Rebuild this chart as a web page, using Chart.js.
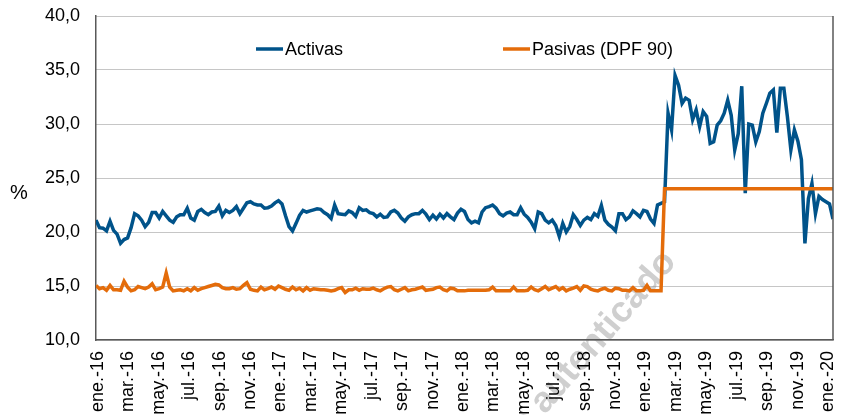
<!DOCTYPE html>
<html>
<head>
<meta charset="utf-8">
<script src="https://cdn.jsdelivr.net/npm/chart.js@4.4.0/dist/chart.umd.min.js"></script>
<style>
    html, body { margin: 0; padding: 0; background: #ffffff; }
</style>
</head>
<body>
<canvas id="tasas-chart" width="843" height="415"></canvas>
<script>
// Etiquetas del eje X (cada dos meses)
const monthLabels = [
    'ene.-16', 'mar.-16', 'may.-16', 'jul.-16', 'sep.-16', 'nov.-16',
    'ene.-17', 'mar.-17', 'may.-17', 'jul.-17', 'sep.-17', 'nov.-17',
    'ene.-18', 'mar.-18', 'may.-18', 'jul.-18', 'sep.-18', 'nov.-18',
    'ene.-19', 'mar.-19', 'may.-19', 'jul.-19', 'sep.-19', 'nov.-19',
    'ene.-20'
];

// Tasas semanales (%)
const activas = [
    21.1, 20.4, 20.35, 20.1, 21.0, 20.15, 19.8, 18.95, 19.3, 19.45,
    20.4, 21.7, 21.5, 21.1, 20.5, 20.9, 21.8, 21.8, 21.3, 21.9,
    21.5, 21.1, 20.9, 21.4, 21.6, 21.6, 22.2, 21.3, 21.1, 21.9,
    22.1, 21.8, 21.6, 21.85, 21.9, 22.4, 21.5, 22.0, 21.8, 22.0,
    22.35, 21.7, 22.2, 22.7, 22.8, 22.6, 22.5, 22.5, 22.2, 22.25,
    22.4, 22.7, 22.9, 22.6, 21.5, 20.5, 20.1, 20.8, 21.55, 22.0,
    21.85, 21.95, 22.05, 22.15, 22.1, 21.8, 21.6, 21.25, 22.5, 21.7,
    21.65, 21.6, 21.95, 21.8, 21.45, 22.25, 22.0, 22.05, 21.8, 21.7,
    21.4, 21.65, 21.35, 21.4, 21.85, 22.0, 21.75, 21.3, 21.0, 21.4,
    21.6, 21.7, 21.7, 22.0, 21.65, 21.15, 21.55, 21.2, 21.65, 21.3,
    21.7, 21.4, 21.15, 21.75, 22.1, 21.9, 21.15, 20.85, 21.0, 20.85,
    21.85, 22.25, 22.35, 22.5, 22.2, 21.7, 21.5, 21.75, 21.85, 21.6,
    21.6, 22.25, 21.65, 21.35, 20.9, 20.3, 21.85, 21.7, 21.1, 20.85,
    21.1, 20.6, 19.6, 20.8, 20.0, 20.5, 21.6, 21.15, 20.6, 21.1,
    21.35, 21.15, 21.7, 21.45, 22.45, 21.1, 20.7, 20.45, 20.1, 21.7,
    21.7, 21.15, 21.4, 21.95, 21.7, 21.4, 22.0, 21.9, 21.2, 20.8,
    22.5, 22.65, 22.8, 31.0, 29.45, 34.5, 33.6, 31.9, 32.4, 32.2,
    30.4, 31.3, 29.75, 31.15, 30.7, 28.2, 28.35, 29.9, 30.3, 31.0,
    32.2, 30.8, 27.6, 29.1, 33.5, 23.6, 30.0, 29.9, 28.35, 29.3,
    31.0, 31.9, 32.85, 33.15, 29.2, 33.3, 33.3, 30.7, 27.6, 29.45,
    28.4, 26.7, 18.95, 23.1, 24.5, 21.7, 23.3, 23.0, 22.8, 22.6,
    21.2
];

const pasivas = [
    15.05, 14.75, 14.85, 14.6, 15.05, 14.65, 14.65, 14.6, 15.45, 14.9,
    14.55, 14.65, 14.95, 14.85, 14.75, 14.9, 15.2, 14.65, 14.75, 14.9,
    16.2, 14.9, 14.55, 14.6, 14.65, 14.55, 14.75, 14.55, 14.85, 14.6,
    14.75, 14.85, 14.95, 15.05, 15.15, 15.1, 14.85, 14.75, 14.75, 14.85,
    14.7, 14.75, 15.05, 15.3, 14.7, 14.6, 14.55, 14.9, 14.65, 14.75,
    14.9, 14.7, 15.0, 14.85, 14.7, 14.6, 14.9, 14.65, 14.8, 14.55,
    14.85, 14.6, 14.75, 14.7, 14.65, 14.65, 14.6, 14.55, 14.6, 14.75,
    14.85, 14.4, 14.65, 14.65, 14.8, 14.6, 14.75, 14.7, 14.7, 14.8,
    14.65, 14.55, 14.75, 14.9, 14.95, 14.65, 14.55, 14.7, 14.85, 14.55,
    14.65, 14.7, 14.8, 14.9, 14.6, 14.65, 14.7, 14.85, 14.9, 14.65,
    14.55, 14.8, 14.75, 14.55, 14.55, 14.55, 14.6, 14.6, 14.6, 14.6,
    14.6, 14.6, 14.65, 14.9, 14.55, 14.55, 14.55, 14.55, 14.55, 14.9,
    14.55, 14.55, 14.55, 14.6, 14.9, 14.65, 14.55, 14.75, 14.95, 14.65,
    14.8, 14.95, 14.65, 14.85, 14.55, 14.7, 14.8, 14.95, 14.6, 15.0,
    14.95, 14.7, 14.6, 14.55, 14.7, 14.8, 14.6, 14.55, 14.8, 14.75,
    14.6, 14.6, 14.55, 14.85, 14.55, 14.55, 14.6, 15.05, 14.55, 14.55,
    14.55, 14.55, 24.0, 24.0, 24.0, 24.0, 24.0, 24.0, 24.0, 24.0,
    24.0, 24.0, 24.0, 24.0, 24.0, 24.0, 24.0, 24.0, 24.0, 24.0,
    24.0, 24.0, 24.0, 24.0, 24.0, 24.0, 24.0, 24.0, 24.0, 24.0,
    24.0, 24.0, 24.0, 24.0, 24.0, 24.0, 24.0, 24.0, 24.0, 24.0,
    24.0, 24.0, 24.0, 24.0, 24.0, 24.0, 24.0, 24.0, 24.0, 24.0,
    24.0
];

// Primera semana (en meses desde ene.-16) y paso semanal en meses
const FIRST_WEEK = -0.13;
const MONTHS_PER_WEEK = 12 / 52;

const BLUE = '#00538a';
const ORANGE = '#e46c0a';
const FONT = "'Liberation Sans', Arial, sans-serif";

function toPoints(values) {
    return values.map((v, i) => ({ x: FIRST_WEEK + i * MONTHS_PER_WEEK, y: v }));
}

// Quitar el margen extra que Chart.js reserva para las etiquetas
function noScalePadding(axis) {
    axis.paddingLeft = 0;
    axis.paddingRight = 0;
    axis.paddingTop = 0;
    axis.paddingBottom = 0;
}

// Leyenda, "%", borde derecho y marca de agua
const extrasPlugin = {
    id: 'extras',
    beforeDraw(chart) {
        const ctx = chart.ctx;
        ctx.save();
        ctx.translate(670, 256);
        ctx.rotate(-49 * Math.PI / 180);
        ctx.font = 'bold 36px ' + FONT;
        ctx.fillStyle = '#cfcfcf';
        ctx.textAlign = 'right';
        ctx.textBaseline = 'middle';
        ctx.fillText('Documento autenticado', 0, 0);
        ctx.restore();
    },
    afterDraw(chart) {
        const ctx = chart.ctx;
        const area = chart.chartArea;
        ctx.save();

        // borde derecho
        ctx.strokeStyle = '#595959';
        ctx.lineWidth = 1.5;
        ctx.beginPath();
        ctx.moveTo(area.right, area.top);
        ctx.lineTo(area.right, area.bottom);
        ctx.stroke();

        // "%"
        ctx.fillStyle = '#000';
        ctx.font = '20px ' + FONT;
        ctx.textAlign = 'center';
        ctx.textBaseline = 'middle';
        ctx.fillText('%', 19, 193);

        // leyenda
        const items = [
            { label: chart.data.datasets[0].label, color: BLUE, x: 256 },
            { label: chart.data.datasets[1].label, color: ORANGE, x: 503 }
        ];
        ctx.font = '18px ' + FONT;
        ctx.textAlign = 'left';
        items.forEach(item => {
            ctx.strokeStyle = item.color;
            ctx.lineWidth = 3.5;
            ctx.beginPath();
            ctx.moveTo(item.x, 49);
            ctx.lineTo(item.x + 27, 49);
            ctx.stroke();
            ctx.fillStyle = '#000';
            ctx.fillText(item.label, item.x + 29, 50);
        });
        ctx.restore();
    }
};

const ctx = document.getElementById('tasas-chart').getContext('2d');

new Chart(ctx, {
    type: 'line',
    data: {
        datasets: [
            {
                label: 'Activas',
                data: toPoints(activas),
                borderColor: BLUE,
                borderWidth: 3.5,
                pointRadius: 0,
                tension: 0,
                order: 1
            },
            {
                label: 'Pasivas (DPF 90)',
                data: toPoints(pasivas),
                borderColor: ORANGE,
                borderWidth: 3.5,
                pointRadius: 0,
                tension: 0,
                order: 0
            }
        ]
    },
    options: {
        responsive: false,
        animation: false,
        layout: {
            padding: { left: 0, right: 10, top: 16, bottom: 0 }
        },
        plugins: {
            legend: { display: false },
            tooltip: { enabled: false }
        },
        scales: {
            x: {
                type: 'linear',
                min: FIRST_WEEK,
                max: FIRST_WEEK + (activas.length - 1) * MONTHS_PER_WEEK,
                afterBuildTicks: function(axis) {
                    axis.ticks = monthLabels.map((_, k) => ({ value: k * 2 }));
                },
                afterFit: function(axis) {
                    axis.height = 75;
                    noScalePadding(axis);
                },
                grid: { display: false, drawTicks: false },
                border: { display: true, color: '#595959', width: 1.5 },
                ticks: {
                    autoSkip: false,
                    minRotation: 90,
                    maxRotation: 90,
                    padding: 11,
                    color: '#000',
                    font: { family: FONT, size: 18 },
                    callback: function(value, index) {
                        return monthLabels[index];
                    }
                }
            },
            y: {
                min: 10,
                max: 40,
                afterFit: function(axis) {
                    axis.width = 96;
                    noScalePadding(axis);
                },
                grid: {
                    color: '#8c8c8c',
                    lineWidth: 1,
                    drawTicks: false
                },
                border: { display: true, color: '#595959', width: 1.5, dash: [1, 1] },
                ticks: {
                    stepSize: 5,
                    padding: 16,
                    color: '#000',
                    font: { family: FONT, size: 18 },
                    callback: function(value) {
                        return value.toFixed(1).replace('.', ',');
                    }
                }
            }
        }
    },
    plugins: [extrasPlugin]
});
</script>
</body>
</html>
